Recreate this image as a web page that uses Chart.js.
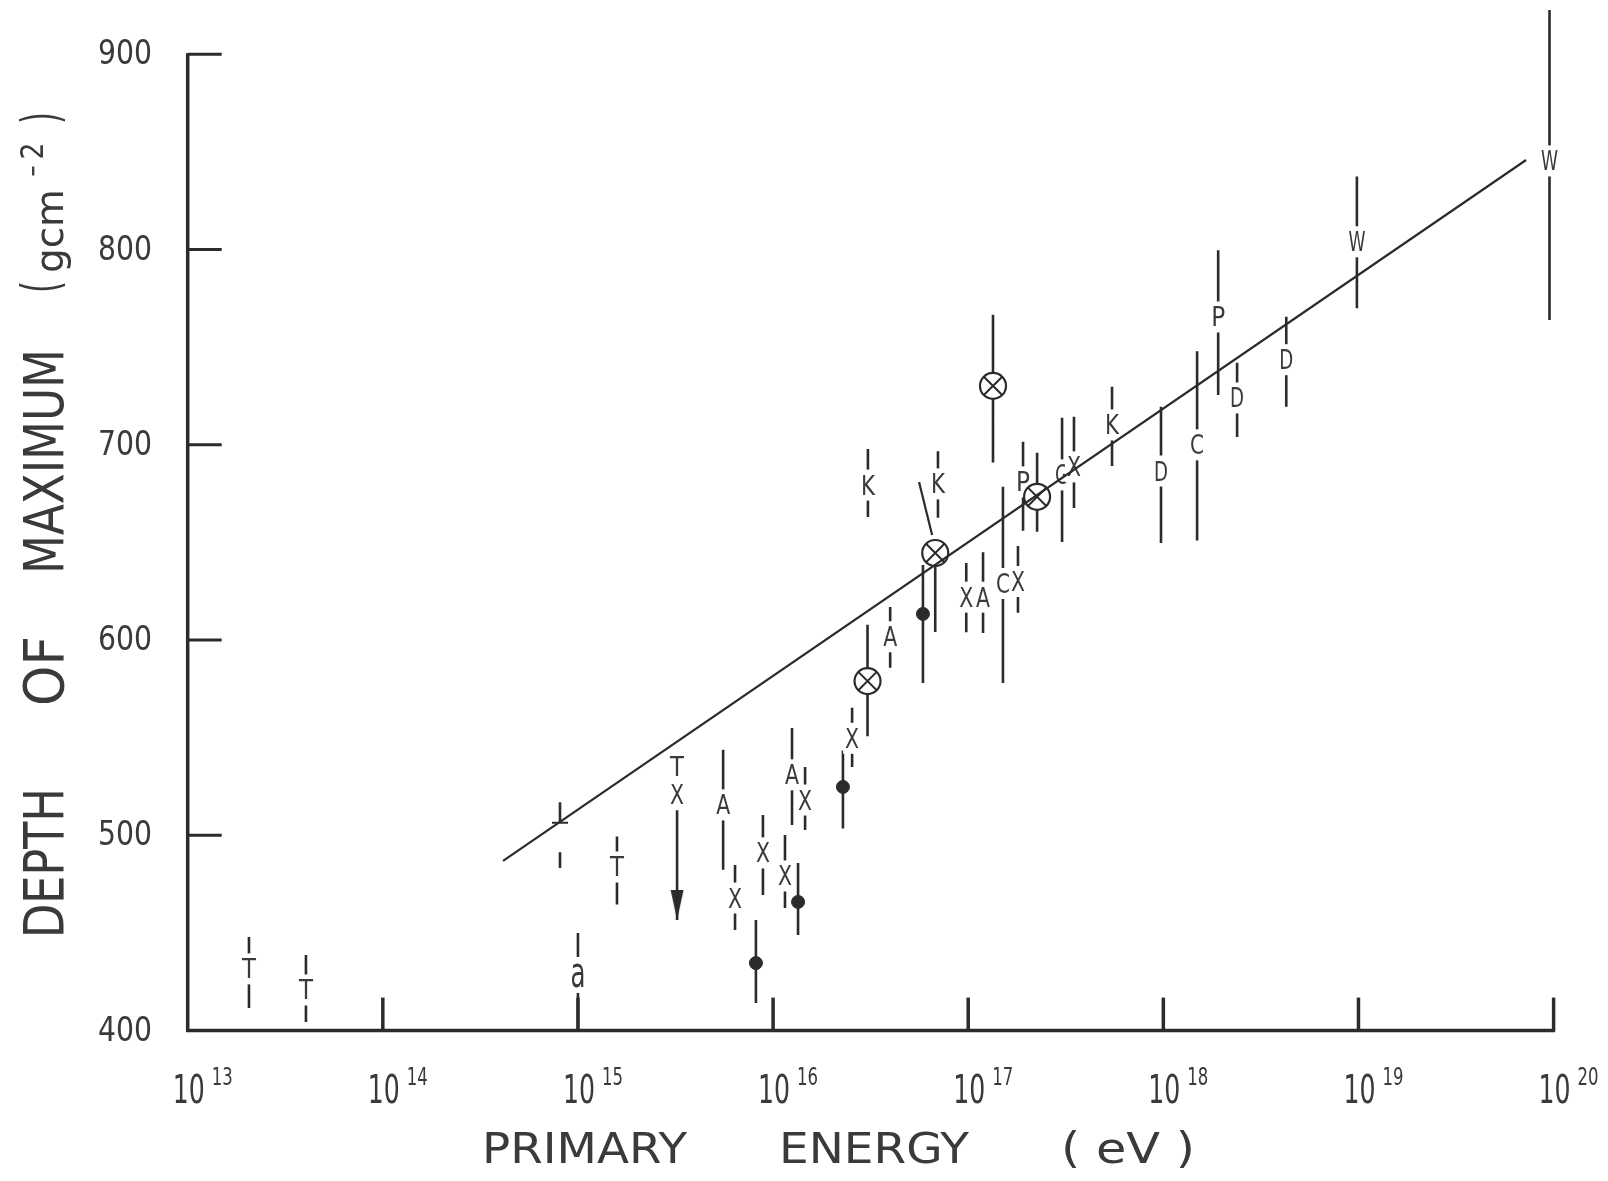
<!DOCTYPE html>
<html><head><meta charset="utf-8">
<script src="https://cdn.jsdelivr.net/npm/chart.js@4.4.1/dist/chart.umd.min.js"></script>
<style>html,body{margin:0;padding:0;background:#fff;}#wrap{width:1608px;height:1181px;}</style>
</head><body><div id="wrap"><canvas id="c" width="1608" height="1181"></canvas></div>
<script>
// ---- axis ticks ----
const xTickExponents = [13, 14, 15, 16, 17, 18, 19, 20];
const yTickValues = [400, 500, 600, 700, 800, 900];
const xTitleWords = ['PRIMARY', 'ENERGY', '( eV )'];
const yTitleWords = ['DEPTH', 'OF', 'MAXIMUM'];

// ---- measurements (log10 of primary energy in eV, depth in g cm^-2) ----
const pointLabels = ['T','T','a','','T','T','X','A','X','','X','X','','A','X','','X','','K','A','','','K','X','A','C','X','','P','','G','X','K','D','C','P','D','D','W','W'];
const pointKinds  = ['L','L','L','tick','L','L','L','L','L','dot','L','L','dot','L','L','dot','L','ox','L','L','dot','ox','L','L','L','L','L','ox','L','ox','L','L','L','L','L','L','L','L','L','L'];
const logEnergy   = [13.314,13.606,15.0,14.908,15.20,15.508,15.508,15.744,15.805,15.912,15.948,16.061,16.128,16.097,16.164,16.358,16.405,16.484,16.486,16.60,16.768,16.831,16.845,16.99,17.076,17.178,17.255,17.127,17.281,17.353,17.481,17.542,17.737,17.988,18.173,18.281,18.378,18.63,18.992,19.979];
const depth       = [431.6,420.8,428.5,506.4,483.8,535.2,520.8,515.6,467.9,434.6,491.0,479.2,465.9,531.0,518.1,524.8,549.7,579.0,679.4,601.7,613.4,644.6,680.0,622.0,622.0,629.0,630.0,730.2,681.0,673.4,684.6,688.7,710.2,686.6,700.0,765.5,724.0,743.6,804.0,845.4];
const depthHigh   = [448,438.7,450,517,499.4,null,null,543.9,484.8,456.6,510.4,500.2,485.8,555,535,543.4,565.4,607.8,697.9,617,638.5,null,696.7,639.5,645,678.6,648.2,766.6,701.6,696,713.9,714.4,729.7,719.5,748,799.7,742,765.6,837.5,922.7];
const depthLow    = [411.6,404.4,400,483.3,464.6,null,456.7,482.4,451.5,414.1,469.4,462.8,449,505.3,502.8,503.5,535,550.7,663,585.8,578,604.1,662.6,604,603.6,578,614,691,656,655.5,650.2,667.7,689.2,649.7,651,725.5,704,719.5,770,764];
const brokenBar   = [false,false,false,true,false,false,false,false,false,false,false,false,false,false,false,false,false,false,false,false,false,false,false,false,false,false,false,false,false,false,false,false,false,false,false,false,false,false,false,false];

// upper-limit arrow (tip)
const arrowLogE = [15.508];
const arrowTip  = [456.7];
// displaced (slanted) upper error bar of the circled point near 7e16 eV
const slantLogE  = [16.748, 16.815];
const slantDepth = [681.0, 653.8];
// fitted line
const fitLogE  = [14.616, 19.859];
const fitDepth = [486.9, 845.9];

const INK = '#2b2b2b';
const TXT = '#3a3a3a';

// ---- build datasets ----
function segs(filterFn) {
  const d = [];
  for (let i = 0; i < logEnergy.length; i++) {
    if (!filterFn(i)) continue;
    const top = depthHigh[i] ?? depth[i];
    const bot = depthLow[i] ?? depth[i];
    if (top === bot) continue;
    const x = Math.pow(10, logEnergy[i]);
    d.push({x, y: top}, {x, y: bot}, {x, y: null});
  }
  return d;
}
function pts(kind) {
  const d = [];
  for (let i = 0; i < logEnergy.length; i++) if (pointKinds[i] === kind) d.push({x: Math.pow(10, logEnergy[i]), y: depth[i]});
  return d;
}

// arrowhead point style: tip at canvas centre
const arrowImg = document.createElement('canvas');
arrowImg.width = 14; arrowImg.height = 60;
{
  const a = arrowImg.getContext('2d');
  a.fillStyle = INK;
  a.beginPath(); a.moveTo(0.5, 0); a.lineTo(13.5, 0); a.lineTo(7, 30); a.closePath(); a.fill();
}

function fitText(ctx, text, x, baseline, width, cap, align) {
  const size = cap / 0.729;
  ctx.font = size + 'px "DejaVu Sans"';
  const m = ctx.measureText(text).width;
  const sx = width / m;
  ctx.save();
  ctx.translate(x, baseline);
  ctx.scale(sx, 1);
  ctx.textAlign = align || 'center';
  ctx.textBaseline = 'alphabetic';
  ctx.fillText(text, 0, 0);
  ctx.restore();
  return sx * m;
}

const labelPlugin = {
  id: 'letterLabels',
  afterDatasetDraw(chart, args) {
    if (chart.data.datasets[args.index].id !== 'bars') return;
    const ctx = chart.ctx, xs = chart.scales.x, ys = chart.scales.y;
    ctx.save();
    for (let i = 0; i < pointLabels.length; i++) {
      if (pointKinds[i] !== 'L') continue;
      const t = pointLabels[i];
      const px = xs.getPixelForValue(Math.pow(10, logEnergy[i]));
      const py = ys.getPixelForValue(depth[i]);
      const lower = t === t.toLowerCase();
      const cap = lower ? 24 : 19;
      const w = t === 'W' ? 17 : (lower ? 15 : 14);
      ctx.fillStyle = '#fff';
      ctx.fillRect(px - w / 2 - 2, py - cap / 2 - 6, w + 4, cap + 12);
      ctx.fillStyle = TXT;
      if (lower) {
        ctx.font = (cap / 0.56) + 'px "DejaVu Sans"';
        const m = ctx.measureText(t).width;
        ctx.save(); ctx.translate(px, py + cap / 2); ctx.scale(w / m, 1);
        ctx.textAlign = 'center'; ctx.textBaseline = 'alphabetic'; ctx.fillText(t, 0, 0); ctx.restore();
      } else {
        fitText(ctx, t, px, py + cap / 2, w, cap, 'center');
      }
    }
    ctx.restore();
  }
};

const axesPlugin = {
  id: 'handAxes',
  afterDraw(chart) {
    const ctx = chart.ctx, xs = chart.scales.x, ys = chart.scales.y;
    const left = xs.getPixelForValue(Math.pow(10, xTickExponents[0]));
    const right = xs.getPixelForValue(Math.pow(10, xTickExponents[xTickExponents.length - 1]));
    const bottom = ys.getPixelForValue(yTickValues[0]);
    const top = ys.getPixelForValue(yTickValues[yTickValues.length - 1]);
    ctx.save();
    ctx.strokeStyle = INK; ctx.lineCap = 'butt';
    ctx.lineWidth = 3.5;
    ctx.beginPath();
    ctx.moveTo(left, top - 1); ctx.lineTo(left, bottom); ctx.lineTo(right + 1.5, bottom);
    ctx.stroke();
    ctx.lineWidth = 3;
    for (const v of yTickValues.slice(1)) {
      const y = ys.getPixelForValue(v);
      ctx.beginPath(); ctx.moveTo(left, y); ctx.lineTo(left + 34, y); ctx.stroke();
    }
    ctx.lineWidth = 3.5;
    for (const e of xTickExponents.slice(1)) {
      const x = xs.getPixelForValue(Math.pow(10, e));
      ctx.beginPath(); ctx.moveTo(x, bottom); ctx.lineTo(x, bottom - 33); ctx.stroke();
    }
    // tick labels
    ctx.fillStyle = TXT;
    for (const v of yTickValues) {
      const y = ys.getPixelForValue(v) - 2;
      fitText(ctx, String(v), 152, y + 12, 54, 24, 'right');
    }
    for (const e of xTickExponents) {
      const x = xs.getPixelForValue(Math.pow(10, e));
      fitText(ctx, '10', x + 1, 1103, 32, 28, 'center');
      fitText(ctx, String(e), x + 24, 1085, 21, 18, 'left');
    }
    // x title
    const xt = [[482, 687], [779, 969], [1061, 1195]];
    xTitleWords.forEach((w, i) => fitText(ctx, w, (xt[i][0] + xt[i][1]) / 2, 1163, xt[i][1] - xt[i][0], 31, 'center'));
    // y title (rotated)
    const yt = [[788, 938], [636, 706], [349, 574]];
    const rot = (fn, cy, bx) => { ctx.save(); ctx.translate(bx, cy); ctx.rotate(-Math.PI / 2); fn(); ctx.restore(); };
    yTitleWords.forEach((w, i) => rot(() => fitText(ctx, w, 0, 0, yt[i][1] - yt[i][0], 40, 'center'), (yt[i][0] + yt[i][1]) / 2, 63));
    rot(() => fitText(ctx, '(', 0, 0, 12, 38, 'center'), 287, 58);
    rot(() => fitText(ctx, 'gcm', 0, 0, 84, 29, 'center'), 231, 63);
    rot(() => fitText(ctx, '\u2212', 0, 0, 12, 20, 'center'), 171, 42);
    rot(() => fitText(ctx, '2', 0, 0, 17, 23, 'center'), 151, 43);
    rot(() => fitText(ctx, ')', 0, 0, 12, 38, 'center'), 118, 58);
    ctx.restore();
  }
};

const whiteBg = {
  id: 'whiteBg',
  beforeDraw(chart) { const c = chart.ctx; c.save(); c.fillStyle = '#fff'; c.fillRect(0, 0, chart.width, chart.height); c.restore(); }
};

new Chart(document.getElementById('c'), {
  type: 'scatter',
  data: {
    datasets: [
      { id: 'bars', data: segs(i => !brokenBar[i]), showLine: true, spanGaps: false, borderColor: INK, borderWidth: 2.6, pointRadius: 0, clip: false, order: 10 },
      { id: 'brokenBars', data: segs(i => brokenBar[i]), showLine: true, spanGaps: false, borderColor: INK, borderWidth: 2.6, borderDash: [20, 30], pointRadius: 0, clip: false, order: 11 },
      { id: 'slant', data: slantLogE.map((v, i) => ({x: Math.pow(10, v), y: slantDepth[i]})), showLine: true, borderColor: INK, borderWidth: 2.2, pointRadius: 0, clip: false, order: 10 },
      { id: 'dots', data: pts('dot'), pointStyle: 'circle', pointRadius: 6.5, backgroundColor: INK, borderColor: INK, borderWidth: 1, order: 5 },
      { id: 'circles', data: pts('ox'), pointStyle: 'circle', pointRadius: 13, backgroundColor: '#fff', borderColor: INK, borderWidth: 2.2, order: 4 },
      { id: 'crosses', data: pts('ox'), pointStyle: 'crossRot', pointRadius: 13, borderColor: INK, borderWidth: 2, order: 3 },
      { id: 'ticks', data: pts('tick'), pointStyle: 'line', pointRadius: 8, borderColor: INK, borderWidth: 2, order: 3 },
      { id: 'arrow', data: arrowLogE.map((v, i) => ({x: Math.pow(10, v), y: arrowTip[i]})), pointStyle: arrowImg, pointRadius: 10, order: 3 },
      { id: 'fit', data: fitLogE.map((v, i) => ({x: Math.pow(10, v), y: fitDepth[i]})), showLine: true, borderColor: INK, borderWidth: 2.2, pointRadius: 0, order: 1 }
    ]
  },
  options: {
    responsive: false, animation: false, devicePixelRatio: 1, events: [],
    layout: { padding: { left: 187.7, right: 54.4, top: 54.35, bottom: 150.4 } },
    scales: {
      x: { type: 'logarithmic', min: 1e13, max: 1e20, display: false },
      y: { type: 'linear', min: 400, max: 900, display: false }
    },
    plugins: { legend: { display: false }, tooltip: { enabled: false }, title: { display: false } }
  },
  plugins: [whiteBg, labelPlugin, axesPlugin]
});
</script>
</body></html>
